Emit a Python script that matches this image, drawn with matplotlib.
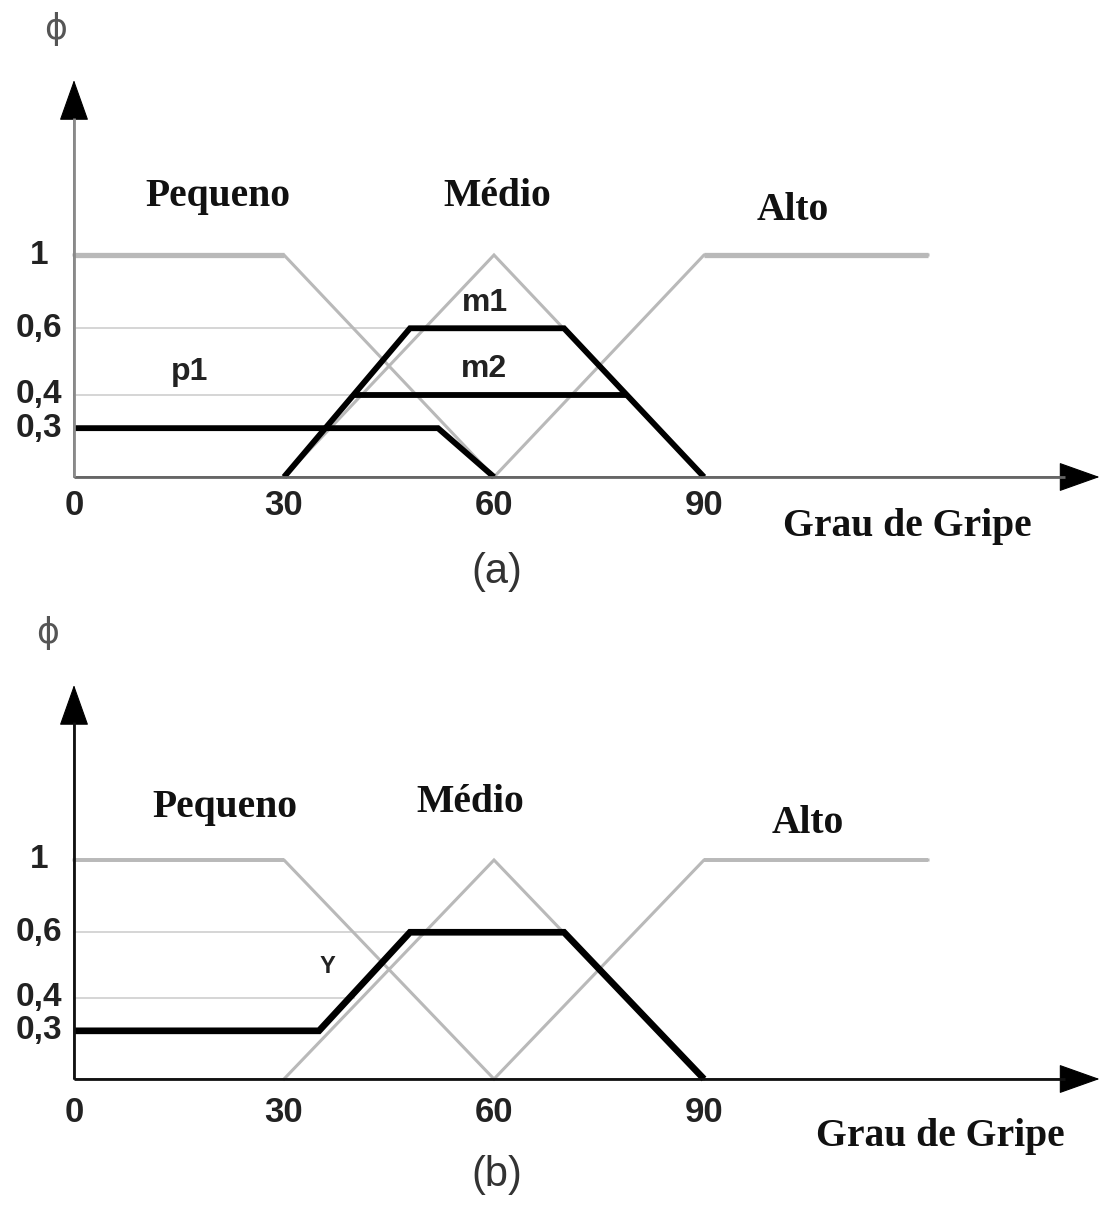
import matplotlib
matplotlib.use('Agg')
import matplotlib.pyplot as plt
import numpy as np

W, H = 1106, 1205
XU = 7.0  # pixels per unit of "grau de gripe"
X0 = 74   # pixel column of the membership axis

# fuzzy sets (grau de gripe -> pertinencia)
pequeno_x = [0, 30, 60]
pequeno_y = [1, 1, 0]
medio_x = [30, 60, 90]
medio_y = [0, 1, 0]
alto_x = [60, 90, 122]
alto_y = [0, 1, 1]

# (a) clipped sets
p1_x = [0, 52, 60]
p1_y = [0.3, 0.3, 0]
m1_x = [30, 48, 70, 90]
m1_y = [0, 0.6, 0.6, 0]
m2_x = [40, 79]
m2_y = [0.4, 0.4]

# (b) aggregated output
out_x = [0, 35, 48, 70, 90]
out_y = [0.3, 0.3, 0.6, 0.6, 0]

x_ticks = [0, 30, 60, 90]
x_tick_labels = ['0', '30', '60', '90']
y_ticks = [1, 0.6, 0.4, 0.3]
y_tick_labels = ['1', '0,6', '0,4', '0,3']

guide_levels = [0.6, 0.4]
guide_ends = [48, 40]

# the membership axis is not drawn to scale: levels are spread out
level_vals = [-10, 0, 0.3, 0.4, 0.6, 1, 10]
level_pos = [-10, 0, 0.22, 0.37, 0.67, 1, 10]


def fwd(v):
    return np.interp(v, level_vals, level_pos)


def inv(p):
    return np.interp(p, level_pos, level_vals)


GRAY = '#b9b9b9'
SERIF = 'Liberation Serif'
SANS = 'Liberation Sans'

fig = plt.figure(figsize=(W / 100, H / 100), dpi=100)
fig.patch.set_facecolor('white')


def make_axes(top, bottom, y0, unit):
    ax = fig.add_axes([0, 1 - bottom / H, 1, (bottom - top) / H])
    ax.set_yscale('function', functions=(fwd, inv))
    ax.set_xlim(-X0 / XU, (W - X0) / XU)
    ax.set_ylim(inv((y0 - bottom) / unit), inv((y0 - top) / unit))
    ax.axis('off')
    return ax


def draw_axes(ax, x_tip, y_tip, x_color, y_color):
    head = dict(arrowstyle='-|>,head_length=1.35,head_width=0.48', color='black',
                lw=0.8, shrinkA=0, shrinkB=0, mutation_scale=20)
    ax.annotate('', xy=(x_tip, 0), xytext=(0, 0), arrowprops=head, zorder=4)
    ax.annotate('', xy=(0, y_tip), xytext=(0, 0), arrowprops=head, zorder=4)
    ax.plot([0, x_tip - 5], [0, 0], color=x_color, lw=2, zorder=5,
            solid_capstyle='butt')
    ax.plot([0, 0], [0, inv(fwd(y_tip) - 0.17)], color=y_color, lw=2, zorder=5,
            solid_capstyle='butt')


def draw_sets(ax, plateau_lw):
    for lvl, end in zip(guide_levels, guide_ends):
        ax.plot([0, end], [lvl, lvl], color='#d2d2d2', lw=1.3, zorder=1)
    for xs, ys in [(pequeno_x, pequeno_y), (medio_x, medio_y), (alto_x, alto_y)]:
        ax.plot(xs, ys, color=GRAY, lw=2.2, zorder=2, solid_joinstyle='miter')
        # full-membership stretches are drawn a little heavier
        for i in range(len(xs) - 1):
            if ys[i] == 1 and ys[i + 1] == 1:
                ax.plot(xs[i:i + 2], ys[i:i + 2], color=GRAY, lw=plateau_lw,
                        zorder=2, solid_capstyle='butt')


def draw_ticks(ax, x_lab_y):
    for t, lab in zip(x_ticks, x_tick_labels):
        ax.text(t, x_lab_y, lab, ha='center', va='center', fontsize=25,
                fontweight='bold', family=SANS, color='#222')
    for t, lab in zip(y_ticks, y_tick_labels):
        ax.text(-5.0, t, lab, ha='center', va='center', fontsize=24,
                fontweight='bold', family=SANS, color='#222')


def name(px, py, txt, size=28.5):
    fig.text(px / W, 1 - py / H, txt, ha='center', va='baseline', fontsize=size,
             fontweight='bold', family=SERIF, color='#111')


def phi(px, py):
    fig.text(px / W, 1 - py / H, 'ϕ', ha='center', va='center', fontsize=25,
             family='DejaVu Sans', color='#555')


black = dict(color='black', lw=4.2, zorder=3, solid_joinstyle='miter',
             solid_capstyle='butt')

# ---- (a)
ax = make_axes(0, 600, 477, 222)
draw_sets(ax, 3.8)
ax.plot(p1_x, p1_y, **black)
ax.plot(m1_x, m1_y, **black)
ax.plot(m2_x, m2_y, **black)
draw_axes(ax, 146.5, 1.788, '#666666', '#8a8a8a')
draw_ticks(ax, -0.13)
lab = dict(textcoords='offset pixels', ha='center', va='center', fontsize=23,
           fontweight='bold', family=SANS, color='#222')
ax.annotate('p1', xy=(16.5, 0.3), xytext=(0, 56), **lab)
ax.annotate('m1', xy=(58.7, 0.6), xytext=(0, 25), **lab)
ax.annotate('m2', xy=(58.5, 0.4), xytext=(0, 26), **lab)
phi(56, 29)
name(218, 206, 'Pequeno')
name(497, 206, 'Médio')
name(793, 220, 'Alto')
name(907, 536, 'Grau de Gripe')
fig.text(497 / W, 1 - 572 / H, '(a)', ha='center', va='center', fontsize=30,
         family=SANS, color='#333')

# ---- (b)
ax = make_axes(600, 1205, 1079, 219)
draw_sets(ax, 2.8)
ax.plot(out_x, out_y, **dict(black, lw=4.8))
draw_axes(ax, 146.5, 1.799, '#111111', '#111111')
draw_ticks(ax, -0.155)
ax.annotate('Y', xy=(36.2, 0.4), xytext=(0, 31), textcoords='offset pixels',
            ha='center', va='center', fontsize=17, fontweight='bold',
            family=SANS, color='#222')
phi(48, 633)
name(225, 817, 'Pequeno')
name(470, 812, 'Médio')
name(808, 833, 'Alto')
name(940, 1146, 'Grau de Gripe')
fig.text(497 / W, 1 - 1175 / H, '(b)', ha='center', va='center', fontsize=30,
         family=SANS, color='#333')

fig.savefig('out.png', dpi=100, facecolor='white')
